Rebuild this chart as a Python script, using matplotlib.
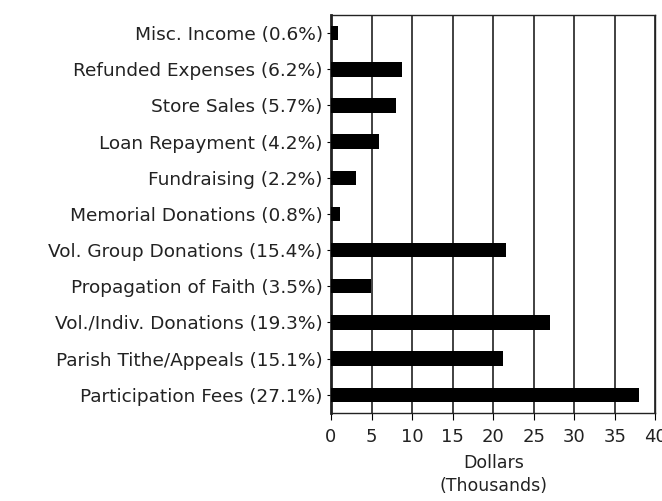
import matplotlib
matplotlib.use('Agg')
import matplotlib.pyplot as plt
import numpy as np

plt.rcParams['font.family'] = ['DejaVu Sans']

# categories bottom -> top
labels = ['Participation Fees (27.1%)', 'Parish Tithe/Appeals (15.1%)',
          'Vol./Indiv. Donations (19.3%)', 'Propagation of Faith (3.5%)',
          'Vol. Group Donations (15.4%)', 'Memorial Donations (0.8%)',
          'Fundraising (2.2%)', 'Loan Repayment (4.2%)', 'Store Sales (5.7%)',
          'Refunded Expenses (6.2%)', 'Misc. Income (0.6%)']
values = [38.0, 21.2, 27.0, 4.9, 21.6, 1.1, 3.1, 5.9, 8.0, 8.7, 0.85]
xticks = [0, 5, 10, 15, 20, 25, 30, 35, 40]

fig = plt.figure(figsize=(6.62, 5.01), dpi=100)
ax = fig.add_axes([0.5, 0.176, 0.49, 0.794])

y = np.arange(len(labels))
ax.barh(y, values, height=0.4, color='black', zorder=3)
ax.set_yticks(y)
ax.set_yticklabels(labels, fontsize=13.3, color='#222222')
ax.set_xticks(xticks)
ax.set_xticklabels([str(t) for t in xticks], fontsize=13, color='#222222')
ax.set_xlim(0, 40)
ax.set_ylim(-0.5, len(labels) - 0.5)
ax.xaxis.grid(True, color='#333333', linewidth=1.3, zorder=0)
ax.tick_params(axis='y', length=3, width=0.8, pad=3)
ax.tick_params(axis='x', length=5, width=0.8, pad=6)
for s in ax.spines.values():
    s.set_color('#222222')
    s.set_linewidth(1.0)
ax.spines['left'].set_linewidth(2.0)
ax.set_xlabel('Dollars\n(Thousands)', fontsize=12.5, color='#222222', labelpad=6,
              linespacing=1.3)

fig.savefig('out.png', dpi=100)
